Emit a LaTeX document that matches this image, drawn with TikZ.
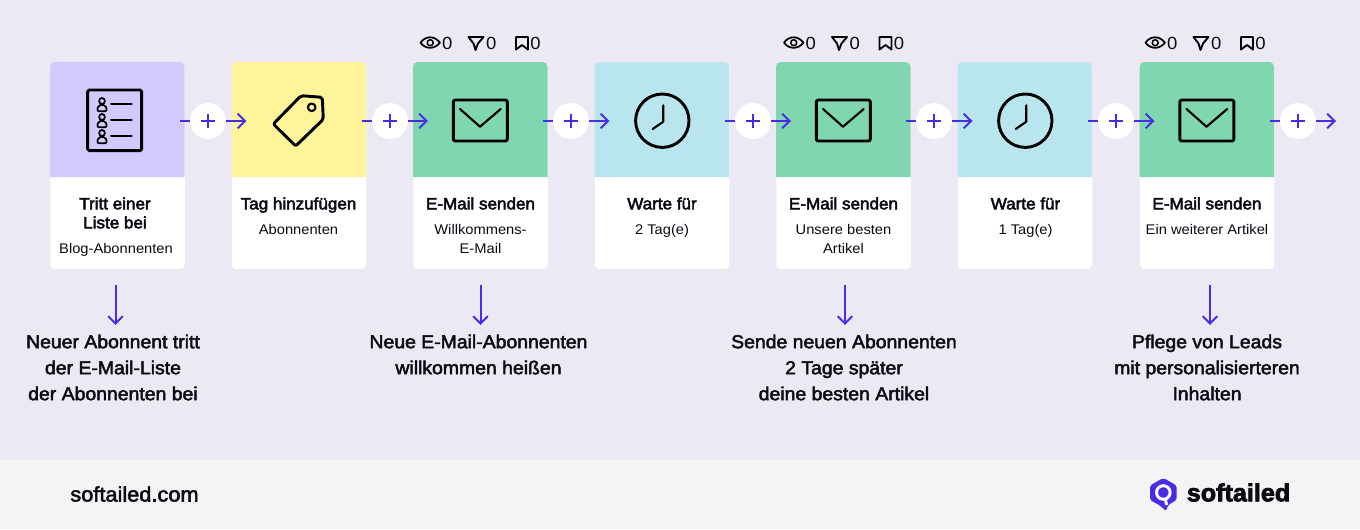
\documentclass[tikz,border=0pt]{standalone}
\usepackage{fontspec}
\setmainfont{Liberation Sans}
\newfontfamily\medf[FakeBold=3,FakeStretch=1.04]{Liberation Sans}
\newfontfamily\capf[FakeBold=2.5,FakeStretch=1.04]{Liberation Sans}
\newfontfamily\regf[FakeStretch=1.05]{Liberation Sans}
\newfontfamily\logof[FakeBold=3,FakeStretch=1.02]{Liberation Sans Bold}
\usetikzlibrary{arrows.meta,calc}
\definecolor{bgc}{HTML}{ECE8F4}
\definecolor{footc}{HTML}{F4F4F4}
\definecolor{purp}{HTML}{D2CAFC}
\definecolor{yell}{HTML}{FFF49A}
\definecolor{gren}{HTML}{7FD6AF}
\definecolor{cyan2}{HTML}{B9E6EE}
\definecolor{arrc}{HTML}{4A2BE8}
\definecolor{inkc}{HTML}{0B0B14}
\tikzset{
 x=0.75pt,y=-0.75pt,
 cardbox/.style={rectangle,fill=white,rounded corners=3.5pt,minimum width=100.9pt,minimum height=155.2pt,inner sep=0pt,anchor=north west},
 plusbox/.style={circle,fill=white,minimum size=27pt,inner sep=0pt},
 flow/.style={draw=arrc,line width=1.5pt},
 flowtip/.style={flow,-{Straight Barb[length=5.6pt,width=11pt,line width=1.5pt]}},
 ico/.style={draw=black,line width=2.2pt,line join=round,line cap=round},
 titletext/.style={font=\medf\fontsize{12.3}{14.25}\selectfont,align=center,text=inkc,inner sep=0pt},
 subtext/.style={font=\regf\fontsize{10.5}{14.25}\selectfont,align=center,text=inkc,inner sep=0pt},
 captext/.style={font=\capf\fontsize{14}{19.5}\selectfont,align=center,text=inkc,inner sep=0pt},
 stattext/.style={font=\regf\fontsize{13.2}{14}\selectfont,text=inkc,inner sep=0pt},
}
\newcommand{\mkcard}[3]{%
 \node[cardbox] (#1) at (#2,62) {};
 \fill[#3,rounded corners=3.5pt] (#2,62) -- ++(134.5,0) -- ++(0,58) [sharp corners] -- ++(0,57) -- ++(-134.5,0) -- ++(0,-57) [rounded corners=3.5pt] -- cycle;
}
\newcommand{\mkenv}[1]{%
 \draw[ico,rounded corners=1.5pt] (#1+40.3,100) rectangle (#1+94.3,141);
 \draw[ico,line width=1.6pt] (#1+47,109) -- (#1+67,126.7) -- (#1+87.7,109);
}
\newcommand{\mkclock}[1]{%
 \draw[ico] (#1+67.8,120.7) circle[radius=26.7];
 \draw[ico,line width=1.6pt] (#1+68.8,105.3) -- (#1+68.8,121.7) -- (#1+58.2,129);
}
\newcommand{\mkstats}[2]{%
 \draw[ico,line width=1.3pt] (#1+0,42.7) .. controls (#1+5,35.5) and (#1+14,35.5) .. (#1+19.5,42.7) .. controls (#1+14,49.5) and (#1+5,49.5) .. (#1+0,42.7) -- cycle;
 \draw[ico,line width=1.1pt] (#1+9.7,42.7) circle[radius=3];
 \node[stattext] (#2a) at (#1+26.7,43) {0};
 \draw[ico,line width=1.4pt] (#1+48,37) -- (#1+63,37) -- (#1+57.5,43.5) -- (#1+55,50) -- (#1+53,43.5) -- cycle;
 \node[stattext] (#2b) at (#1+70.7,43) {0};
 \draw[ico,line width=1.4pt] (#1+95.5,37) -- (#1+107.5,37) -- (#1+107.5,49.5) -- (#1+101.5,45) -- (#1+95.5,49.5) -- cycle;
 \node[stattext] (#2c) at (#1+115,43) {0};
}
\newcommand{\mkplus}[2]{%
 \node[plusbox] (#1) at (#2,121) {};
 \draw[flow,line width=1.4pt] (#2-7,121) -- (#2+7,121) (#2,114) -- (#2,128);
}
\begin{document}
\begin{tikzpicture}
\useasboundingbox (0,0) rectangle (1360,529);
\fill[bgc] (0,0) rectangle (1360,460);
\fill[footc] (0,460) rectangle (1360,529);
% cards
\mkcard{c1}{50}{purp}
\mkcard{c2}{231.5}{yell}
\mkcard{c3}{413}{gren}
\mkcard{c4}{594.5}{cyan2}
\mkcard{c5}{776}{gren}
\mkcard{c6}{957.5}{cyan2}
\mkcard{c7}{1139.5}{gren}
% icons
\draw[ico,rounded corners=1.2pt] (87.7,90) rectangle (141.7,150.7);
\foreach \dy in {0,16,32}{
 \draw[ico,line width=1.3pt] (102,101+\dy) ellipse[x radius=2.9,y radius=3];
 \draw[ico,line width=1.3pt,rounded corners=1.5pt] (97,111.2+\dy) -- (98.5,105+\dy) -- (105.5,105+\dy) -- (107,111.2+\dy) -- cycle;
 \draw[ico,line width=1.5pt] (111,104+\dy) -- (131.7,104+\dy);
}
\draw[ico,rounded corners=1.5pt] (273.3,124) -- (301,95.7) -- (322.3,97.3) -- (323.3,119.3) -- (295.7,146) -- cycle;
\draw[ico,line width=1.6pt] (311.7,107.3) circle[radius=3.8];
\mkenv{413}\mkclock{594.5}\mkenv{776}\mkclock{957.5}\mkenv{1139.5}
\mkstats{420.5}{sa}\mkstats{784}{sb}\mkstats{1145.5}{sc}
% plus and connectors
\mkplus{p1}{208}\mkplus{p2}{390}\mkplus{p3}{571}\mkplus{p4}{753}\mkplus{p5}{934}\mkplus{p6}{1116}\mkplus{p7}{1298}
\coordinate (endc) at (1336,121);
\foreach \a/\p/\b in {c1/p1/c2,c2/p2/c3,c3/p3/c4,c4/p4/c5,c5/p5/c6,c6/p6/c7}{
 \draw[flow] ($(\a.east|-\p)+(-5,0)$) -- (\p);
 \draw[flowtip] (\p) -- ($(\b.west|-\p)+(15,0)$);
}
\draw[flow] ($(c7.east|-p7)+(-5,0)$) -- (p7);
\draw[flowtip] (p7) -- (endc);
% card text
\node[titletext] (t1) at (115,215) {Tritt einer\strut\\Liste bei\strut};
\node[subtext] (s1) at (116,249.5) {Blog-Abonnenten\strut};
\node[titletext] (t2) at (298.5,205.5) {Tag hinzufügen\strut};
\node[subtext] (s2) at (298.5,230.5) {Abonnenten\strut};
\node[titletext] (t3) at (480.5,205.5) {E-Mail senden\strut};
\node[subtext] (s3) at (480.5,240) {Willkommens-\strut\\E-Mail\strut};
\node[titletext] (t4) at (662,205.5) {Warte für\strut};
\node[subtext] (s4) at (662,230.5) {2 Tag(e)\strut};
\node[titletext] (t5) at (843.5,205.5) {E-Mail senden\strut};
\node[subtext] (s5) at (843.5,240) {Unsere besten\strut\\Artikel\strut};
\node[titletext] (t6) at (1025.5,205.5) {Warte für\strut};
\node[subtext] (s6) at (1025.5,230.5) {1 Tag(e)\strut};
\node[titletext] (t7) at (1207,205.5) {E-Mail senden\strut};
\node[subtext] (s7) at (1207,230.5) {Ein weiterer Artikel\strut};
% captions
\node[captext] (n1) at (113,369) {Neuer Abonnent tritt\strut\\der E-Mail-Liste\strut\\der Abonnenten bei\strut};
\node[captext] (n3) at (478.5,356) {Neue E-Mail-Abonnenten\strut\\willkommen heißen\strut};
\node[captext] (n5) at (844,369) {Sende neuen Abonnenten\strut\\2 Tage später\strut\\deine besten Artikel\strut};
\node[captext] (n7) at (1207,369) {Pflege von Leads\strut\\mit personalisierteren\strut\\Inhalten\strut};
\foreach \c/\xx in {c1/115.5,c3/480.5,c5/845,c7/1210}{
 \coordinate (dn) at (\xx,325);
 \draw[flowtip] (\xx,285) -- (dn);
}
% footer
\node[font=\capf\fontsize{15.7}{18}\selectfont,text=inkc,inner sep=0pt] (web) at (134.5,494) {softailed.com};
\fill[arrc,rounded corners=1.5pt] (1163.3,478) -- (1176.7,485.5) -- (1176.7,500) -- (1168,505) -- (1166,511) -- (1160,505.5) -- (1150,500) -- (1150,485.5) -- cycle;
\draw[white,line width=2.2pt] (1163.3,492.5) circle[radius=6.8];
\draw[white,line width=2.2pt] (1165.5,499) -- (1166.5,505);
\node[font=\logof\fontsize{18.5}{22}\selectfont,text=inkc,inner sep=0pt] (logo) at (1238.5,492.5) {softailed};
\end{tikzpicture}
\end{document}
